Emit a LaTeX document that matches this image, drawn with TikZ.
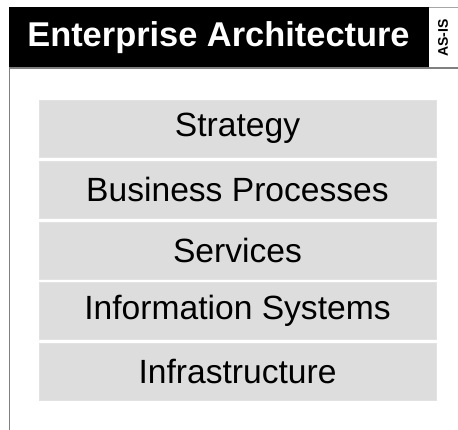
\documentclass[tikz,border=0pt]{standalone}
\usepackage{fontspec}
\setmainfont{Liberation Sans}
\usepackage{tikz}
\definecolor{layergray}{HTML}{DDDDDD}
\tikzstyle{layer}=[rectangle, fill=layergray, draw=layergray!85!white, line width=0.6pt, minimum width=397pt, minimum height=57pt, inner sep=0pt, font=\fontsize{33.6}{36}\selectfont]
\tikzstyle{frame}=[draw=gray, line width=1.4pt]
\newcommand{\layer}{\node[layer]}

\begin{document}
\begin{tikzpicture}[x=1pt, y=-1pt]
	\useasboundingbox (0,0) rectangle (458,430);
	%% the header
	\fill[black] (9,7) rectangle (428,68);
	\node (title) at (218.5,38) [text=white, font=\bfseries\fontsize{34.4}{38}\selectfont] {Enterprise Architecture};
	\draw[draw=gray!70, line width=0.8pt] (428,7) -- (458,7);
	\draw[line width=0.6pt] (428,7) -- (428,68);
	\node (state) at (443,38) [rotate=90, font=\bfseries\fontsize{14}{16}\selectfont] {AS-IS};
	\draw[frame] (458,68) -- (9.5,68) -- (9.5,430);
	%% the layers
	\layer (strategy) at (237.5,128.5) {Strategy};
	\layer (business) at (237.5,189.5) {Business Processes};
	\layer (services) at (237.5,250.5) {Services};
	\layer (infosys) at (237.5,311) {Information Systems};
	\layer (infra) at (237.5,372) {Infrastructure};
\end{tikzpicture}
\end{document}
